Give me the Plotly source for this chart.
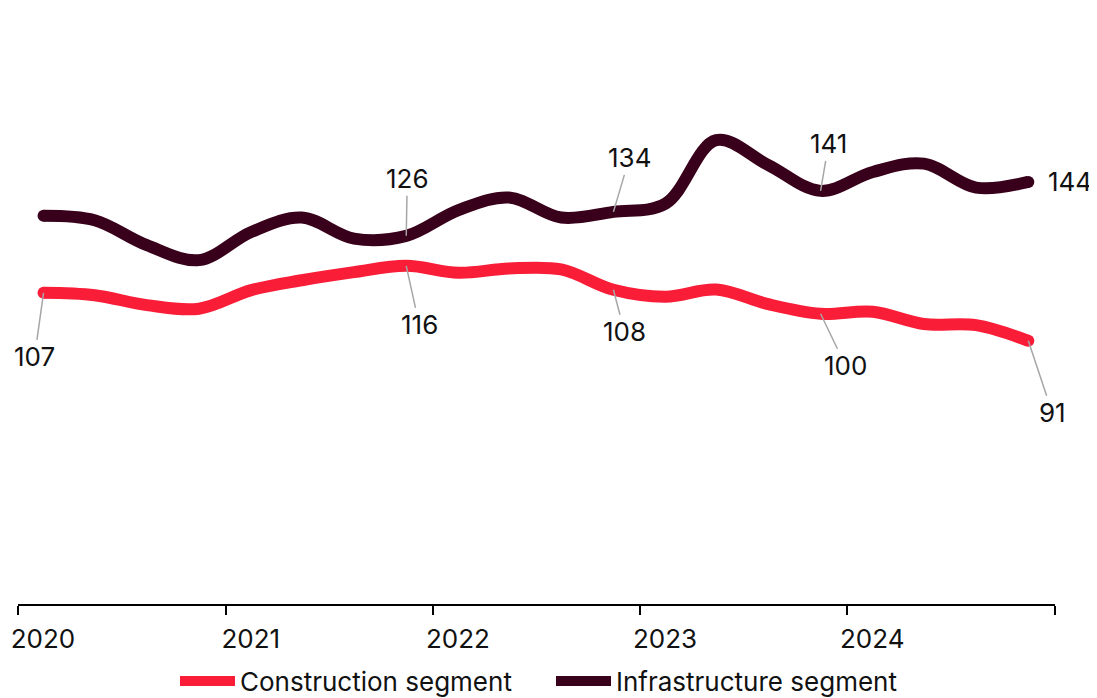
import plotly.graph_objects as go

# Quarterly data (points placed mid-quarter)
quarters = [
    "2020-02-15", "2020-05-15", "2020-08-15", "2020-11-15",
    "2021-02-15", "2021-05-15", "2021-08-15", "2021-11-15",
    "2022-02-15", "2022-05-15", "2022-08-15", "2022-11-15",
    "2023-02-15", "2023-05-15", "2023-08-15", "2023-11-15",
    "2024-02-15", "2024-05-15", "2024-08-15", "2024-11-15",
]
construction = [107.0, 106.2, 102.9, 101.7, 107.9, 111.2, 113.9, 116.0, 113.7, 115.1,
                114.8, 108.0, 105.7, 108.1, 103.2, 100.0, 100.7, 96.6, 96.2, 91.0]
infrastructure = [132.7, 131.2, 122.9, 117.9, 127.3, 132.1, 125.1, 126.0, 134.6, 138.8,
                  132.1, 134.0, 136.8, 157.9, 149.6, 141.0, 147.3, 150.1, 142.1, 144.0]

series_names = ["Construction segment", "Infrastructure segment"]
tick_vals = ["2020-01-01", "2021-01-01", "2022-01-01", "2023-01-01", "2024-01-01", "2025-01-01"]
tick_text = ["2020", "2021", "2022", "2023", "2024", ""]

# indices of labelled points
construction_labelled = [0, 7, 11, 15, 19]
infrastructure_labelled = [7, 11, 15, 19]

RED = "#F91D38"
DARK = "#38001A"
FONT = "Inter"
FS = 26
LW = 12

# the page body has an 8px default margin, so the figure is sized to fill the rest
W, H = 1089, 690

fig = go.Figure()
for name, vals, col in [(series_names[0], construction, RED),
                        (series_names[1], infrastructure, DARK)]:
    fig.add_trace(go.Scatter(x=quarters, y=vals, name=name, mode="lines",
                             line=dict(color=col, width=LW, shape="spline", smoothing=1.0)))
    # round end caps
    fig.add_trace(go.Scatter(x=[quarters[0], quarters[-1]], y=[vals[0], vals[-1]],
                             mode="markers", showlegend=False, hoverinfo="skip",
                             marker=dict(color=col, size=LW, line=dict(width=0))))

# label offsets (pixels): style only
c_offsets = {0: (-9, 64), 7: (13, 59), 11: (11, 42), 15: (25, 52), 19: (24, 72)}
i_offsets = {7: (1, -57), 11: (16, -54), 15: (8, -47)}

for i in construction_labelled:
    ax, ay = c_offsets[i]
    fig.add_annotation(x=quarters[i], y=construction[i], text=f"{construction[i]:.0f}",
                       showarrow=True, arrowhead=0, arrowwidth=1.5, arrowcolor="#A6A6A6",
                       ax=ax, ay=ay, standoff=0, font=dict(family=FONT, size=FS, color="#111"))
for i in infrastructure_labelled:
    if i in i_offsets:
        ax, ay = i_offsets[i]
        fig.add_annotation(x=quarters[i], y=infrastructure[i], text=f"{infrastructure[i]:.0f}",
                           showarrow=True, arrowhead=0, arrowwidth=1.5, arrowcolor="#A6A6A6",
                           ax=ax, ay=ay, standoff=0, font=dict(family=FONT, size=FS, color="#111"))
    else:
        fig.add_annotation(x=quarters[i], y=infrastructure[i], text=f"{infrastructure[i]:.0f}",
                           showarrow=False, xanchor="left", xshift=18,
                           font=dict(family=FONT, size=FS, color="#111"))

fig.update_layout(
    width=W, height=H,
    margin=dict(l=10, r=42, t=6, b=94, autoexpand=False),
    paper_bgcolor="white", plot_bgcolor="white",
    font=dict(family=FONT, size=FS, color="#111"),
    showlegend=True,
    legend=dict(orientation="h", x=(175 - 18) / 1037, xanchor="left", yref="container",
                y=17 / H, yanchor="middle", entrywidth=306,
                font=dict(family=FONT, size=FS, color="#111"), itemwidth=55,
                tracegroupgap=0),
    xaxis=dict(type="date", range=["2020-01-01", "2025-01-01"], tickmode="array",
               tickvals=tick_vals, ticktext=tick_text, showgrid=False, zeroline=False,
               automargin=False,
               showline=True, linecolor="black", linewidth=2, ticks="outside",
               ticklen=9, tickwidth=1.5, tickcolor="black", ticklabelshift=25,
               ticklabelstandoff=2, tickfont=dict(family=FONT, size=FS, color="#111")),
    yaxis=dict(visible=False, range=[3.2, 200], showgrid=False, zeroline=False,
               automargin=False),
)

fig.write_html("out.html")
